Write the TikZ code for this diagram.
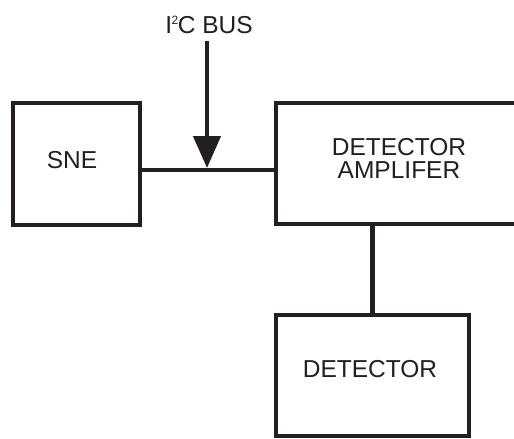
\documentclass[tikz,border=0pt]{standalone}
\usepackage{fontspec}
\setmainfont{Liberation Sans}
\usetikzlibrary{arrows.meta}
\definecolor{ink}{HTML}{231F20}
\begin{document}
\begin{tikzpicture}[x=1pt,y=-1pt,
  blk/.style={draw=ink,line width=4.5pt,minimum width=#1,inner sep=0pt,minimum height=121pt},
  lbl/.style={text=ink,inner sep=0pt,font=\fontsize{24.5}{23}\selectfont,align=center},
  wire/.style={draw=ink,line width=4.5pt}]
\useasboundingbox (0,0) rectangle (514,439);
\clip (0,0) rectangle (514,439);
\fill[white] (0,0) rectangle (514,439);
% boxes
\node[blk=127pt,minimum height=122pt] (sne) at (76.5,164) {};
\node[blk=270pt] (amp) at (411,163.5) {};
\node[blk=193pt] (det) at (372.5,375.5) {};
% labels
\node[lbl,anchor=base] (sneT) at (72,168) {SNE};
\node[lbl,anchor=base] (ampT) at (399,178) {DETECTOR\\AMPLIFER};
\node[lbl,anchor=base] (detT) at (370,377) {DETECTOR};
\node[lbl,anchor=base] (busT) at (209,33) {I\kern-0.5pt\raisebox{8.5pt}{\fontsize{12}{12}\selectfont 2}\kern-0.5pt C BUS};
% connectors
\coordinate (bus) at (207,170);
\coordinate (bustop) at (207,41);
\coordinate (vx) at (372.5,0);
\draw[wire] (sne.east |- bus) -- (amp.west |- bus);
\draw[wire,-{Triangle[length=32pt,width=27pt]}] (bustop) -- (207,168);
\draw[wire] (amp.south -| vx) -- (det.north -| vx);
\end{tikzpicture}
\end{document}
